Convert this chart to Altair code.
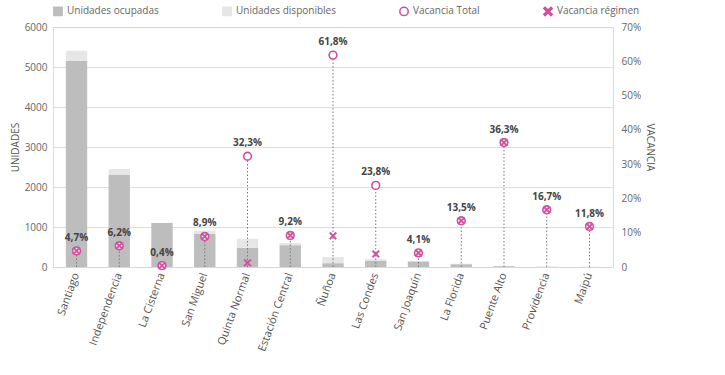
import altair as alt
import pandas as pd

# Housing units and vacancy by commune
comunas = ["Santiago", "Independencia", "La Cisterna", "San Miguel", "Quinta Normal",
           "Estación Central", "Ñuñoa", "Las Condes", "San Joaquín", "La Florida",
           "Puente Alto", "Providencia", "Maipú"]
ocupadas = [5150, 2300, 1100, 830, 480, 545, 95, 150, 140, 70, 20, 5, 3]
disponibles = [254, 152, 4, 81, 229, 55, 154, 47, 6, 11, 11, 1, 0]
vacancia_total = [4.7, 6.2, 0.4, 8.9, 32.3, 9.2, 61.8, 23.8, 4.1, 13.5, 36.3, 16.7, 11.8]
vacancia_regimen = [4.7, 6.2, 0.4, 8.9, 1.2, 9.2, 9.1, 3.8, 4.1, 13.5, 36.3, 16.7, 11.8]

SERIES = ["Unidades ocupadas", "Unidades disponibles", "Vacancia Total", "Vacancia régimen"]
PINK = "#cf4f9e"
X_PATH = ("M-1,-0.7L-0.7,-1L0,-0.3L0.7,-1L1,-0.7L0.3,0L1,0.7L0.7,1L0,0.3"
          "L-0.7,1L-1,0.7L-0.3,0Z")

bars = pd.DataFrame(
    [{"comuna": c, "serie": SERIES[0], "valor": o, "orden": 0} for c, o in zip(comunas, ocupadas)]
    + [{"comuna": c, "serie": SERIES[1], "valor": d, "orden": 1} for c, d in zip(comunas, disponibles)]
)
vac = pd.DataFrame({
    "comuna": comunas,
    "total": vacancia_total,
    "regimen": vacancia_regimen,
})
vac["etiqueta"] = [f"{v:.1f}%".replace(".", ",") for v in vacancia_total]
vac["cero"] = 0
vac["s_total"] = SERIES[2]
vac["s_reg"] = SERIES[3]

font = "Open Sans"
x_enc = alt.X("comuna:N", sort=comunas, title=None,
              scale=alt.Scale(paddingInner=0.5, paddingOuter=0.3),
              axis=alt.Axis(labelAngle=-70, labelFontSize=11, labelColor="#555",
                            labelFont=font, domain=False, ticks=False, grid=False,
                            labelPadding=6))

fill_scale = alt.Scale(domain=SERIES, range=["#bdbdbd", "#e6e6e6", "#ffffff", PINK])
stroke_scale = alt.Scale(domain=SERIES, range=["#bdbdbd", "#e6e6e6", PINK, PINK])
shape_scale = alt.Scale(domain=SERIES, range=["square", "square", "circle", X_PATH])
legend = alt.Legend(title=None, orient="top", direction="horizontal", labelFont=font,
                    labelFontSize=10, labelColor="#666", symbolSize=70, columnPadding=60,
                    offset=8)

bar_layer = alt.Chart(bars).mark_bar().encode(
    x=x_enc,
    y=alt.Y("valor:Q", stack="zero", title="UNIDADES",
            scale=alt.Scale(domain=[0, 6000]),
            axis=alt.Axis(values=[0, 1000, 2000, 3000, 4000, 5000, 6000], format="d",
                          domain=False, ticks=False, grid=True, gridColor="#d6d6d6",
                          gridWidth=0.8, labelColor="#666", labelFont=font,
                          labelFontSize=10, titleFont=font, titleFontSize=10,
                          titleFontWeight="normal", titleColor="#555", labelPadding=6)),
    order=alt.Order("orden:Q"),
    fill=alt.Fill("serie:N", scale=fill_scale, legend=legend),
)

VAC_DOMAIN = [0, 70]
right_axis = alt.Axis(orient="right", values=[0, 10, 20, 30, 40, 50, 60, 70],
                      labelExpr="datum.value == 0 ? '0' : datum.value + '%'",
                      labelOverlap=False, domain=False, ticks=False, grid=False,
                      labelColor="#666", labelFont=font, labelFontSize=10,
                      titleFont=font, titleFontSize=10, titleFontWeight="normal",
                      titleColor="#555", labelPadding=8)

# dotted stems from zero up to the total vacancy; this layer owns the right axis
stems = alt.Chart(vac).mark_rule(strokeDash=[1.5, 2], color="#777", strokeWidth=1).encode(
    x=x_enc,
    y=alt.Y("cero:Q", title="VACANCIA", scale=alt.Scale(domain=VAC_DOMAIN), axis=right_axis),
    y2="total:Q",
)

circles = alt.Chart(vac).mark_point(size=60, strokeWidth=1.6, filled=False, opacity=1).encode(
    x=x_enc,
    y=alt.Y("total:Q", scale=alt.Scale(domain=VAC_DOMAIN), axis=None),
    shape=alt.Shape("s_total:N", scale=shape_scale, legend=legend),
    fill=alt.Fill("s_total:N", scale=fill_scale, legend=legend),
    stroke=alt.Stroke("s_total:N", scale=stroke_scale, legend=legend),
)

crosses = alt.Chart(vac).mark_point(size=55, strokeWidth=0.5, opacity=1).encode(
    x=x_enc,
    y=alt.Y("regimen:Q", scale=alt.Scale(domain=VAC_DOMAIN), axis=None),
    shape=alt.Shape("s_reg:N", scale=shape_scale, legend=legend),
    fill=alt.Fill("s_reg:N", scale=fill_scale, legend=legend),
    stroke=alt.Stroke("s_reg:N", scale=stroke_scale, legend=legend),
)

labels = alt.Chart(vac).mark_text(dy=-13, fontSize=10, fontWeight="bold", color="#444",
                                  font=font).encode(
    x=x_enc,
    y=alt.Y("total:Q", scale=alt.Scale(domain=VAC_DOMAIN), axis=None),
    text="etiqueta:N",
)

chart = (
    alt.layer(bar_layer, stems, circles, crosses, labels)
    .resolve_scale(y="independent")
    .properties(width=560, height=240,
                padding={"left": 10, "right": 10, "top": 6, "bottom": 5})
    .configure_view(strokeWidth=0, stroke="transparent")
    .configure_axis(domain=False, ticks=False)
    .configure(background="white")
)

chart.save("out.html", embed_options={"renderer": "svg", "actions": False})
